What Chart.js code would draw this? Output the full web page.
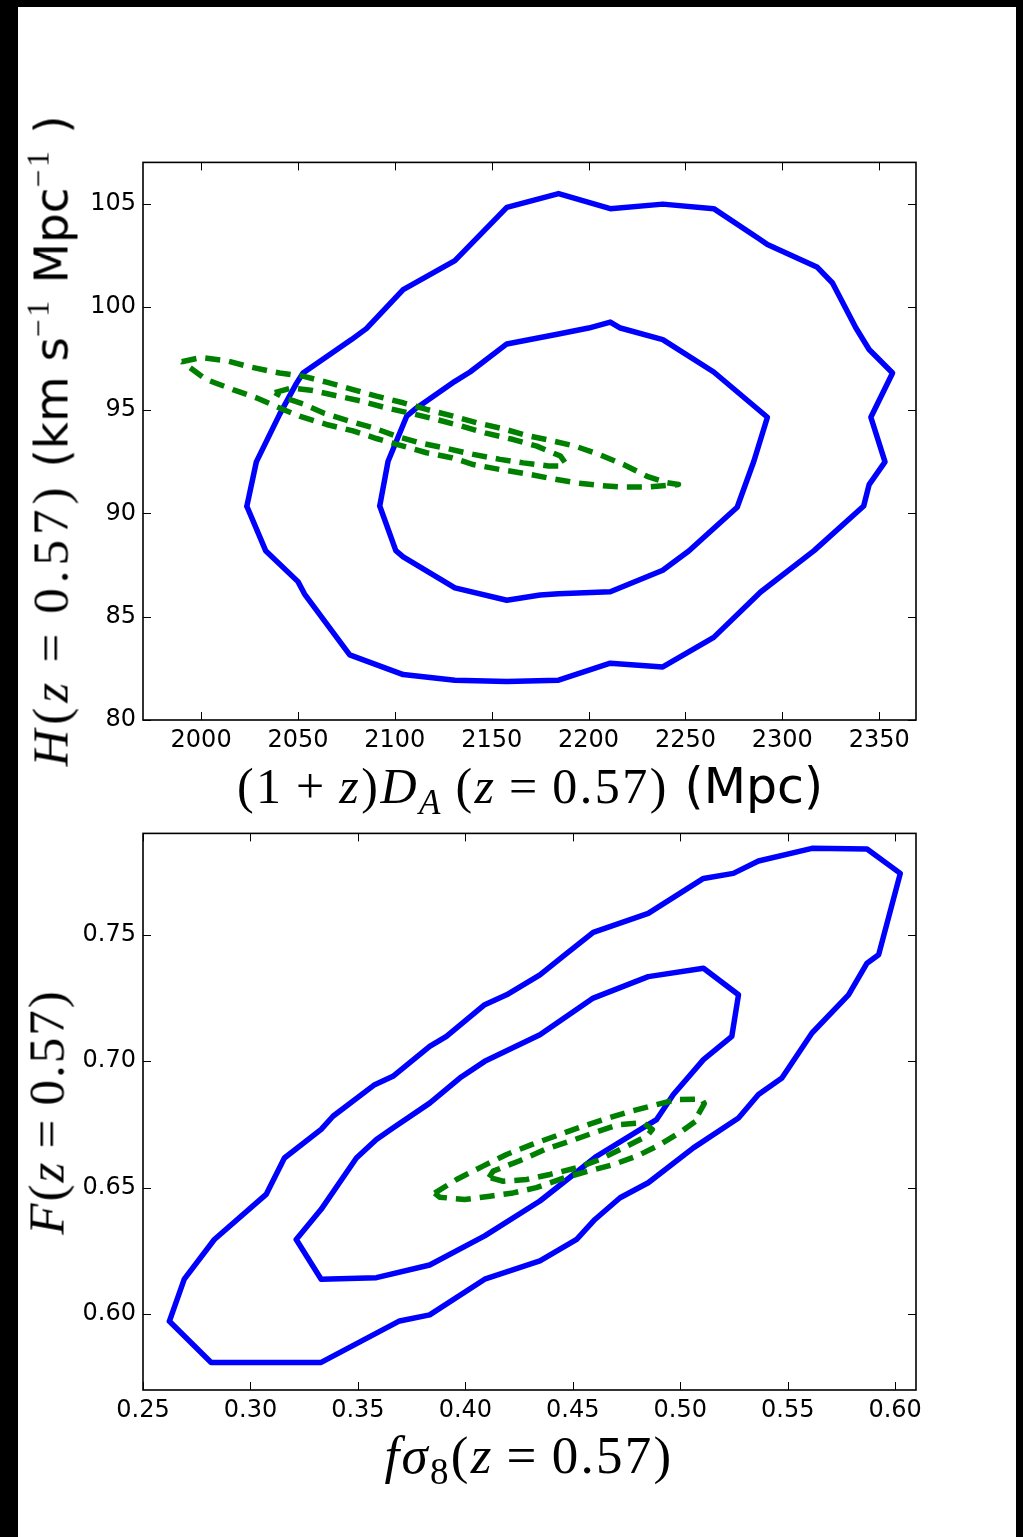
<!DOCTYPE html>
<html><head><meta charset="utf-8">
<script src="https://cdn.jsdelivr.net/npm/chart.js@4/dist/chart.umd.min.js"></script>
<style>
html,body{margin:0;padding:0;background:#000;}
body{width:1023px;height:1537px;position:relative;overflow:hidden;}
#panel{position:absolute;left:18px;top:7px;width:998px;height:1530px;background:#fff;}
canvas{position:absolute;}
.lbl{position:absolute;white-space:nowrap;color:#000;line-height:1;}
.m{font-family:"Liberation Serif",serif;letter-spacing:2.5px;}
.s{font-family:"DejaVu Sans",sans-serif;font-size:0.92em;}
.lbl sup{font-size:0.62em;vertical-align:0.6em;line-height:0;}
.lbl sub{font-size:0.7em;vertical-align:-0.3em;line-height:0;}
</style></head><body>
<div id="panel"></div>
<canvas id="c1" width="893" height="639" style="left:43px;top:141px"></canvas>
<canvas id="c2" width="893" height="638" style="left:43px;top:812px"></canvas>

<div class="lbl" style="left:51px;top:441px;transform:translate(-50%,-50%) rotate(-90deg);font-size:51px"><span class="m" style="letter-spacing:5px"><i>H</i>(<i>z</i>&#8201;=&#8201;0.57)</span><span class="s"> (km s</span><sup class="m">−1</sup><span class="s"> Mpc</span><sup class="m">−1</sup><span class="s"> )</span></div>
<div class="lbl" style="left:530px;top:786px;transform:translate(-50%,-50%);font-size:50px"><span class="m">(1&#8201;+&#8201;<i>z</i>)<i>D</i><sub><i>A</i></sub>&#8201;(<i>z</i>&#8201;=&#8201;0.57)</span><span class="s" style="font-size:0.98em"> (Mpc)</span></div>
<div class="lbl" style="left:47px;top:1112px;transform:translate(-50%,-50%) rotate(-90deg);font-size:51px"><span class="m" style="letter-spacing:2px"><i>F</i>(<i>z</i>&#8201;=&#8201;0.57)</span></div>
<div class="lbl" style="left:529px;top:1455px;transform:translate(-50%,-50%);font-size:53px"><span class="m" style="letter-spacing:2.3px"><i>fσ</i><sub>8</sub>(<i>z</i>&#8201;=&#8201;0.57)</span></div>

<script>
// ---- tick values ----
const topXTicks = [2000, 2050, 2100, 2150, 2200, 2250, 2300, 2350];
const topYTicks = [80, 85, 90, 95, 100, 105];
const botXTicks = [0.25, 0.30, 0.35, 0.40, 0.45, 0.50, 0.55, 0.60];
const botYTicks = [0.60, 0.65, 0.70, 0.75];

// ---- top panel contours: [(1+z)D_A, H] ----
const topBlueOuter = [[2023.6,90.35],[2028.5,92.5],[2040.5,94.8],[2049.2,96.3],[2052.6,96.8],[2077.6,98.42],[2085.3,98.95],[2104.3,100.84],[2111.2,101.2],[2131,102.24],[2157.8,104.82],[2184.5,105.49],[2211.2,104.76],[2238.3,104.98],[2264.6,104.76],[2288,103.3],[2292.3,103.02],[2318.1,101.92],[2325.9,101.16],[2338,98.98],[2344.8,97.94],[2356.9,96.8],[2345.7,94.66],[2353,92.5],[2344.8,91.4],[2342,90.36],[2316.4,88.2],[2288.8,86.2],[2264.6,84.0],[2238.3,82.57],[2211.2,82.75],[2184.5,81.93],[2157.8,81.86],[2131,81.93],[2104.3,82.2],[2076.7,83.15],[2053.4,86.1],[2050,86.7],[2033.3,88.2],[2023.6,90.35]];
const topBlueInner = [[2092.2,90.36],[2096.5,92.53],[2104.3,94.3],[2106.1,94.71],[2111.2,95.11],[2131,96.4],[2138.8,96.85],[2157.8,98.21],[2184.5,98.69],[2200,98.98],[2211.2,99.27],[2216.4,98.98],[2238.3,98.42],[2264.6,96.85],[2292.3,94.66],[2285.3,92.53],[2276.7,90.3],[2251.7,88.18],[2238.3,87.25],[2211.2,86.21],[2184.5,86.11],[2175,86.05],[2157.8,85.8],[2131,86.4],[2104.3,87.9],[2100.5,88.2],[2092.2,90.36]];
const topGreenOuter = [[1990,97.35],[2000,97.55],[2013,97.4],[2025,97.1],[2040.5,96.8],[2052.5,96.65],[2064.7,96.36],[2078.4,96.0],[2090.5,95.68],[2104.3,95.36],[2116.4,95.04],[2130.1,94.71],[2142.3,94.39],[2156,94.1],[2168.1,93.78],[2180.2,93.54],[2193.1,93.26],[2206,92.84],[2218,92.37],[2230.2,91.8],[2240,91.5],[2246.4,91.4],[2244,91.38],[2230.2,91.28],[2217.2,91.28],[2204.3,91.37],[2194,91.48],[2180.2,91.7],[2168.1,91.92],[2154.3,92.13],[2140.5,92.37],[2129.3,92.7],[2116.4,92.94],[2104.3,93.26],[2090.5,93.63],[2078.4,94.0],[2064.7,94.31],[2050.8,94.71],[2040.5,95.11],[2028.5,95.6],[2016.4,96.0],[2002.6,96.49],[1990,97.35]];
const topGreenInner = [[2038,95.85],[2046.6,96.08],[2057.7,95.95],[2070.7,95.68],[2082.8,95.44],[2095.7,95.11],[2108.6,94.84],[2121.5,94.55],[2134.5,94.23],[2146.5,93.9],[2161.2,93.58],[2173.3,93.26],[2185.5,92.78],[2188,92.45],[2186,92.3],[2179.3,92.3],[2166.3,92.45],[2154.3,92.62],[2140.5,92.86],[2126.7,93.15],[2113,93.42],[2100.9,93.74],[2088.8,94.15],[2076.7,94.47],[2063.8,94.84],[2052.6,95.31],[2043,95.6],[2038,95.85]];

// ---- bottom panel contours: [f sigma8, F] ----
const botBlueOuter = [[0.2623,0.5972],[0.2692,0.6138],[0.2832,0.6295],[0.3073,0.6473],[0.3158,0.6617],[0.3329,0.6730],[0.3384,0.6782],[0.3578,0.6907],[0.3663,0.6940],[0.3834,0.7058],[0.3912,0.7098],[0.4090,0.7223],[0.4192,0.7262],[0.4347,0.7341],[0.4463,0.7420],[0.4595,0.7509],[0.4851,0.7584],[0.5108,0.7722],[0.5247,0.7742],[0.5364,0.7791],[0.5613,0.7841],[0.5869,0.7838],[0.6024,0.7742],[0.5923,0.7420],[0.5869,0.7387],[0.5783,0.7262],[0.5613,0.7111],[0.5473,0.6933],[0.5364,0.6868],[0.5271,0.6775],[0.5061,0.6657],[0.4851,0.6519],[0.4720,0.6460],[0.4603,0.6374],[0.4518,0.6295],[0.4347,0.6210],[0.4090,0.6138],[0.3834,0.5997],[0.3694,0.5973],[0.3329,0.5809],[0.2817,0.5809],[0.2623,0.5972]];
const botBlueInner = [[0.3213,0.6295],[0.3329,0.6414],[0.3493,0.6617],[0.3586,0.6690],[0.3663,0.6736],[0.3834,0.6834],[0.3974,0.6933],[0.4090,0.6999],[0.4347,0.7104],[0.4595,0.7249],[0.4851,0.7334],[0.5108,0.7367],[0.5271,0.7262],[0.5240,0.7098],[0.5108,0.7006],[0.4968,0.6868],[0.4890,0.6769],[0.4851,0.6749],[0.4611,0.6624],[0.4347,0.6447],[0.4090,0.6309],[0.3834,0.6194],[0.3586,0.6144],[0.3329,0.6138],[0.3213,0.6295]];
const botGreenOuter = [[0.3857,0.6478],[0.3959,0.6532],[0.4082,0.6585],[0.4192,0.6631],[0.4308,0.6670],[0.4417,0.6703],[0.4525,0.6736],[0.4642,0.6769],[0.4751,0.6797],[0.4867,0.6823],[0.4984,0.6848],[0.5100,0.6850],[0.5112,0.6832],[0.5084,0.6790],[0.5084,0.6770],[0.5007,0.6723],[0.4906,0.6670],[0.4797,0.6624],[0.4688,0.6591],[0.4572,0.6565],[0.4463,0.6539],[0.4330,0.6500],[0.4222,0.6479],[0.4114,0.6466],[0.3997,0.6453],[0.3880,0.6462],[0.3857,0.6478]];
const botGreenInner = [[0.4110,0.6540],[0.4129,0.6565],[0.4253,0.6606],[0.4370,0.6651],[0.4486,0.6683],[0.4595,0.6716],[0.4712,0.6749],[0.4828,0.6756],[0.4870,0.6730],[0.4844,0.6703],[0.4735,0.6657],[0.4626,0.6611],[0.4518,0.6578],[0.4393,0.6552],[0.4285,0.6532],[0.4176,0.6525],[0.4110,0.6540]];

const BLUE = '#0000ff', GREEN = '#008000';
const toPts = a => a.map(p => ({x: p[0], y: p[1]}));
const line = (arr, color, dashed) => ({
  data: toPts(arr), showLine: true, borderColor: color, borderWidth: 5.5,
  pointRadius: 0, fill: false, tension: 0, borderJoinStyle: 'round',
  borderCapStyle: dashed ? 'butt' : 'round', borderDash: dashed ? [15, 9] : []
});

const framePlugin = {
  id: 'frame',
  afterDatasetsDraw(chart) {
    const {ctx, chartArea: a, scales} = chart;
    ctx.save();
    ctx.strokeStyle = '#000';
    ctx.lineWidth = 1;
    ctx.beginPath();
    scales.x.ticks.forEach(t => {
      const px = Math.round(scales.x.getPixelForValue(t.value)) + 0.5;
      ctx.moveTo(px, a.bottom); ctx.lineTo(px, a.bottom - 8);
      ctx.moveTo(px, a.top); ctx.lineTo(px, a.top + 8);
    });
    scales.y.ticks.forEach(t => {
      const py = Math.round(scales.y.getPixelForValue(t.value)) + 0.5;
      ctx.moveTo(a.left, py); ctx.lineTo(a.left + 8, py);
      ctx.moveTo(a.right, py); ctx.lineTo(a.right - 8, py);
    });
    ctx.stroke();
    ctx.lineWidth = 1.6;
    ctx.strokeRect(a.left, a.top, a.right - a.left, a.bottom - a.top);
    ctx.restore();
  }
};

function axis(min, max, ticks, fmt, isX, size) {
  return {
    type: 'linear', min, max,
    afterBuildTicks: s => { s.ticks = ticks.map(v => ({value: v})); },
    afterFit: s => { if (isX) s.height = size; else s.width = size; },
    grid: {display: false, drawTicks: false},
    border: {display: false},
    ticks: {
      color: '#000', font: {family: 'DejaVu Sans', size: 24},
      padding: isX ? 6 : 7, maxRotation: 0, autoSkip: false,
      callback: v => fmt(v)
    }
  };
}

function makeChart(id, datasets, xs, ys) {
  return new Chart(document.getElementById(id), {
    type: 'scatter',
    data: {datasets},
    options: {
      responsive: false, animation: false,
      layout: {padding: {left: 0, top: 20, right: 20, bottom: 0}},
      plugins: {legend: {display: false}, tooltip: {enabled: false}},
      scales: {x: xs, y: ys}
    },
    plugins: [framePlugin]
  });
}

makeChart('c1', [
  line(topGreenOuter, GREEN, true), line(topGreenInner, GREEN, true),
  line(topBlueOuter, BLUE, false), line(topBlueInner, BLUE, false)
],
  axis(1970, 2369, topXTicks, v => String(v), true, 60),
  axis(80, 107, topYTicks, v => String(v), false, 100));

makeChart('c2', [
  line(botGreenOuter, GREEN, true), line(botGreenInner, GREEN, true),
  line(botBlueOuter, BLUE, false), line(botBlueInner, BLUE, false)
],
  axis(0.25, 0.6097, botXTicks, v => v.toFixed(2), true, 60),
  axis(0.57, 0.79, botYTicks, v => v.toFixed(2), false, 100));
</script>
</body></html>
